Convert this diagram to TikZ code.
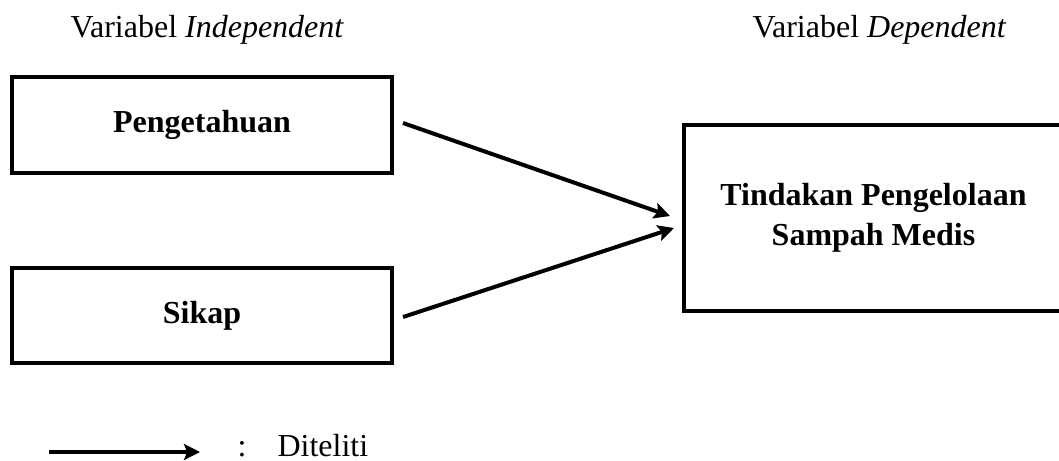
\documentclass[tikz,border=0pt]{standalone}
\usepackage{fontspec}
\setmainfont{Liberation Serif}
\usetikzlibrary{arrows.meta,calc}

\newcommand{\pxunit}{0.375pt}
\newcommand{\linew}{1.5pt}

\begin{document}
\begin{tikzpicture}[x=\pxunit, y=-\pxunit, font=\fontsize{12}{15}\selectfont,
    varbox/.style={draw, line width=\linew, rectangle, font=\fontsize{12}{15}\selectfont\bfseries, align=center},
    arr/.style={line width=\linew, -{Stealth[length=6pt, width=6pt, inset=1.2pt]}}]
    \useasboundingbox (0,0) rectangle (1059,460);

    % Headings.
    \node[anchor=base west, inner sep=0] (indep) at (70,37)  {Variabel \textit{Independent}};
    \node[anchor=base west, inner sep=0] (dep)   at (752,37) {Variabel \textit{Dependent}};

    % Independent variables.
    \node[varbox, minimum width=380*\pxunit, minimum height=96*\pxunit] (peng)  at (202,125)   {Pengetahuan};
    \node[varbox, minimum width=380*\pxunit, minimum height=95*\pxunit] (sikap) at (202,315.5) {Sikap};

    % Dependent variable.
    \node[varbox, minimum width=379*\pxunit, minimum height=186*\pxunit] (tind) at (873.5,218) {Tindakan Pengelolaan\\Sampah Medis};

    % Arrows between independent and dependent.
    \draw [arr] ($(peng.east)+(9,-2)$)   --   ($(tind.west)+(-12,-2)$);
    \draw [arr] ($(sikap.east)+(9,1.5)$) --   ($(tind.west)+(-8,10)$);

    % Legend.
    \coordinate (lgfrom) at (49,452);
    \coordinate (lgto)   at (200,452);
    \draw [arr] (lgfrom) -- (lgto);
    \node[anchor=base, inner sep=0]      (lgcolon) at (242,456) {:};
    \node[anchor=base west, inner sep=0] (lgtext)  at (277,456) {Diteliti};

\end{tikzpicture}
\end{document}
